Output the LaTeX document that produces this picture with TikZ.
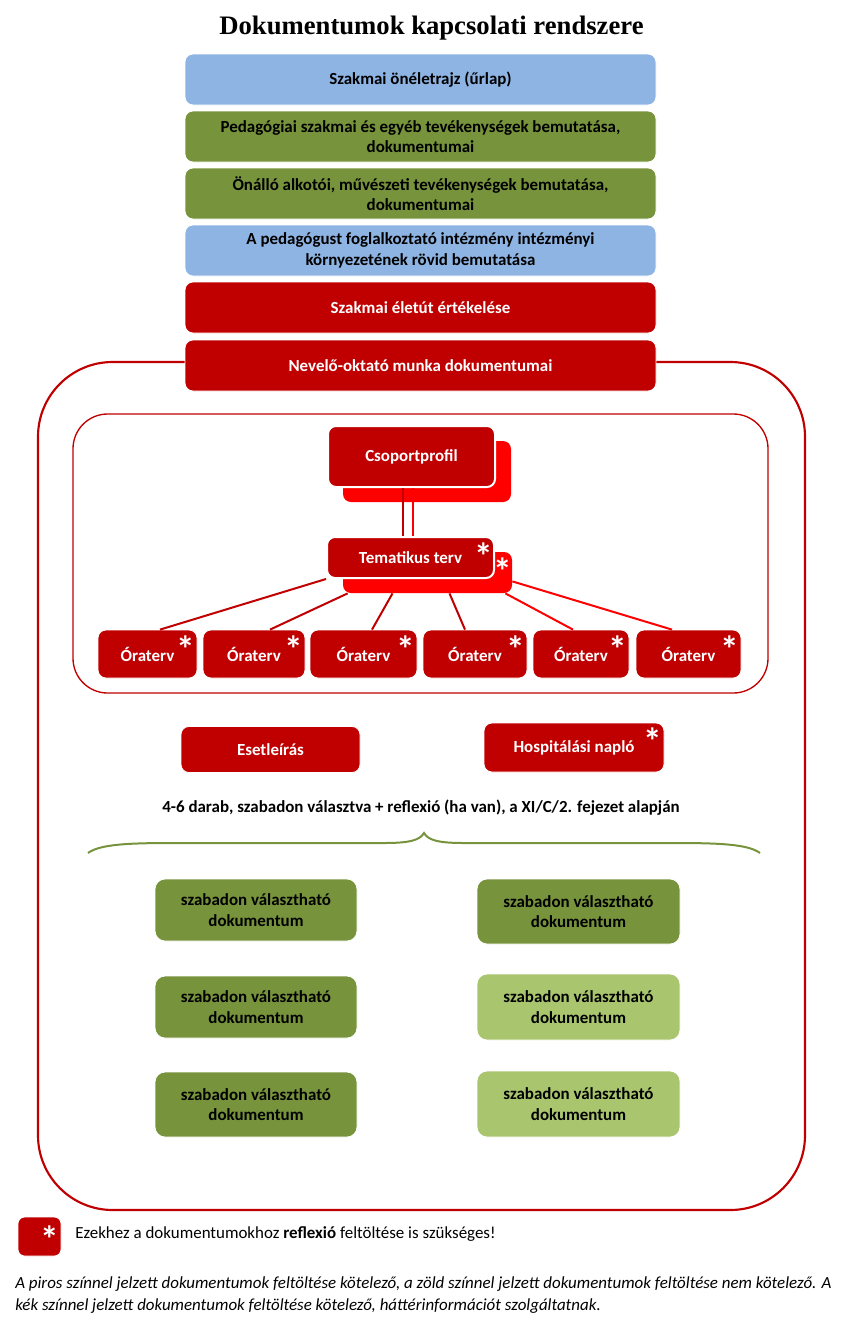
\documentclass[tikz,border=0pt]{standalone}
\usepackage{fontspec}
\setmainfont{Carlito}
\newfontfamily\titlefont{Liberation Serif}
\usetikzlibrary{calc}
\definecolor{dred}{HTML}{C00000}
\definecolor{bred}{HTML}{FF0000}
\definecolor{lblue}{HTML}{8EB4E3}
\definecolor{dgreen}{HTML}{77933C}
\definecolor{lgreen}{HTML}{A9C56E}
\begin{document}
\begin{tikzpicture}[x=0.75pt,y=-0.75pt,
  box/.style={rounded corners=6pt, inner sep=0pt, align=center,
    font=\bfseries\fontsize{12.7}{15.5}\selectfont, draw=white, line width=0.6pt},
  sz/.style 2 args={minimum width=#1*0.75pt, minimum height=#2*0.75pt},
  bluebox/.style={box, fill=lblue, text=black},
  greenbox/.style={box, fill=dgreen, text=black, rounded corners=7.5pt},
  lgreenbox/.style={box, fill=lgreen, text=black, rounded corners=7.5pt},
  redbox/.style={box, fill=dred, text=white},
  backbox/.style={box, fill=bred, draw=none},
  frontbox/.style={redbox, line width=1.5pt},
  ast/.style={text=white, inner sep=0pt, anchor=north, font=\bfseries\fontsize{28}{28}\selectfont},
  link/.style={dred, line width=1.5pt},
  blink/.style={bred, line width=1.5pt}
]
\useasboundingbox (0,0) rectangle (847,1328);

% title
\node[font=\titlefont\bfseries\fontsize{20}{24}\selectfont, inner sep=0pt] (title) at (431.5,28) {Dokumentumok kapcsolati rendszere};

% frames
\draw[dred, line width=1.6pt, rounded corners=56pt] (38,362) rectangle (805,1210);
\draw[dred, line width=1pt, rounded corners=26pt] (73,414) rectangle (768,693);

% top boxes
\node[bluebox, sz={471}{51}] (b1) at (420.5,79.5) {Szakmai önéletrajz (űrlap)};
\node[greenbox, rounded corners=6pt, sz={471}{51}] (b2) at (420.5,136.5) {Pedagógiai szakmai és egyéb tevékenységek bemutatása,\\dokumentumai};
\node[greenbox, rounded corners=6pt, sz={471}{51}] (b3) at (420.5,193.5) {Önálló alkotói, művészeti tevékenységek bemutatása,\\dokumentumai};
\node[bluebox, sz={471}{51}] (b4) at (420.5,250.5) {A pedagógust foglalkoztató intézmény intézményi\\környezetének rövid bemutatása};
\node[redbox, sz={471}{51}] (b5) at (420.5,307.5) {Szakmai életút értékelése};
\node[redbox, sz={471}{51}] (b6) at (420.5,365.5) {Nevelő-oktató munka dokumentumai};

% Csoportprofil
\node[backbox, sz={168}{61}] (csB) at (427,471.5) {};
\node[frontbox, sz={167}{61}] (csF) at (411.5,456.5) {Csoportprofil};

% Tematikus terv
\node[backbox, sz={169}{41}] (temB) at (427.5,572.5) {};
\node[ast] (astTB) at ($(temB.north east)+(-10,6)$) {*};
\node[frontbox, sz={167}{41}] (temF) at (410.5,557.5) {Tematikus terv};
\node[ast] (astTF) at ($(temF.north east)+(-11,7)$) {*};

% double connector
\draw[dred, line width=2pt] ($(csF.south)+(-8.5,0)$) -- ($(temF.north)+(-7.5,0)$);
\draw[bred, line width=2pt] ($(csF.south)+(1.5,0)$) -- ($(temF.north)+(2.5,0)$);

% Oraterv boxes
\node[redbox, sz={99}{48}] (o1) at (147.5,654) {Óraterv};
\node[redbox, sz={102}{48}] (o2) at (254,654) {Óraterv};
\node[redbox, sz={107}{48}] (o3) at (363.5,654) {Óraterv};
\node[redbox, sz={104}{48}] (o4) at (475,654) {Óraterv};
\node[redbox, sz={96}{48}] (o5) at (581,654) {Óraterv};
\node[redbox, sz={105}{48}] (o6) at (688.5,654) {Óraterv};
\foreach \o in {o1,o2,o3,o4,o5,o6}{
  \node[ast] at ($(\o.north east)+(-12,6)$) {*};
}

% links
\draw[link] (temF.south west) -- ($(o1.north)+(12.5,0)$);
\draw[link] ($(temB.south west)+(5,0)$) -- ($(o2.north)+(16,0)$);
\draw[link] ($(temB.south)+(-35,0)$) -- ($(o3.north)+(8.5,0)$);
\draw[link] ($(temB.south)+(22,0)$) -- ($(o4.north)+(-10,0)$);
\draw[blink] ($(temB.south east)+(-7,0)$) -- ($(o5.north)+(-8,0)$);
\draw[blink] ($(temB.south east)+(0,-12)$) -- ($(o6.north)+(-16.5,0)$);

% Esetleiras / Hospitalasi
\node[redbox, sz={179}{46}] (eset) at (270.5,749.5) {Esetleírás};
\node[redbox, sz={180}{49}] (hosp) at (574,747.5) {Hospitálási napló};
\node[ast] (astH) at ($(hosp.north east)+(-12,5)$) {*};

\node[font=\bfseries\fontsize{12.7}{15}\selectfont, inner sep=0pt] (note) at (421,808) {4-6 darab, szabadon választva + reflexió (ha van), a XI/C/2. fejezet alapján};

% brace
\draw[dgreen, line width=1.5pt] (88,853) .. controls (100,844) and (130,843) .. (175,843) -- (385,843) .. controls (410,843) and (420,840) .. (424,833) .. controls (428,840) and (438,843) .. (463,843) -- (673,843) .. controls (718,843) and (748,844) .. (760,853);

% green boxes
\node[greenbox, sz={202}{62}] (g1) at (256,910) {szabadon választható\\dokumentum};
\node[greenbox, sz={202}{62}] (g2) at (256,1007) {szabadon választható\\dokumentum};
\node[greenbox, sz={202}{65}] (g3) at (256,1104.5) {szabadon választható\\dokumentum};
\node[greenbox, sz={203}{65}] (g4) at (578.5,911.5) {szabadon választható\\dokumentum};
\node[lgreenbox, sz={203}{66}] (g5) at (578.5,1007) {szabadon választható\\dokumentum};
\node[lgreenbox, sz={203}{66}] (g6) at (578.5,1104) {szabadon választható\\dokumentum};

% legend
\node[redbox, rounded corners=5pt, sz={43}{39}] (leg) at (39.5,1236.5) {};
\node[ast] (astL) at ($(leg.north east)+(-12,9)$) {*};
\node[anchor=west, inner sep=0pt, font=\fontsize{12.7}{15}\selectfont] (legtext) at (75,1234) {Ezekhez a dokumentumokhoz \textbf{reflexió} feltöltése is szükséges!};

% footer
\node[anchor=west, inner sep=0pt, font=\itshape\fontsize{12.7}{15}\selectfont] (f1) at (15,1284) {A piros színnel jelzett dokumentumok feltöltése kötelező, a zöld színnel jelzett dokumentumok feltöltése nem kötelező. A};
\node[anchor=west, inner sep=0pt, font=\itshape\fontsize{12.7}{15}\selectfont] (f2) at (15,1306) {kék színnel jelzett dokumentumok feltöltése kötelező, háttérinformációt szolgáltatnak.};
\end{tikzpicture}
\end{document}
